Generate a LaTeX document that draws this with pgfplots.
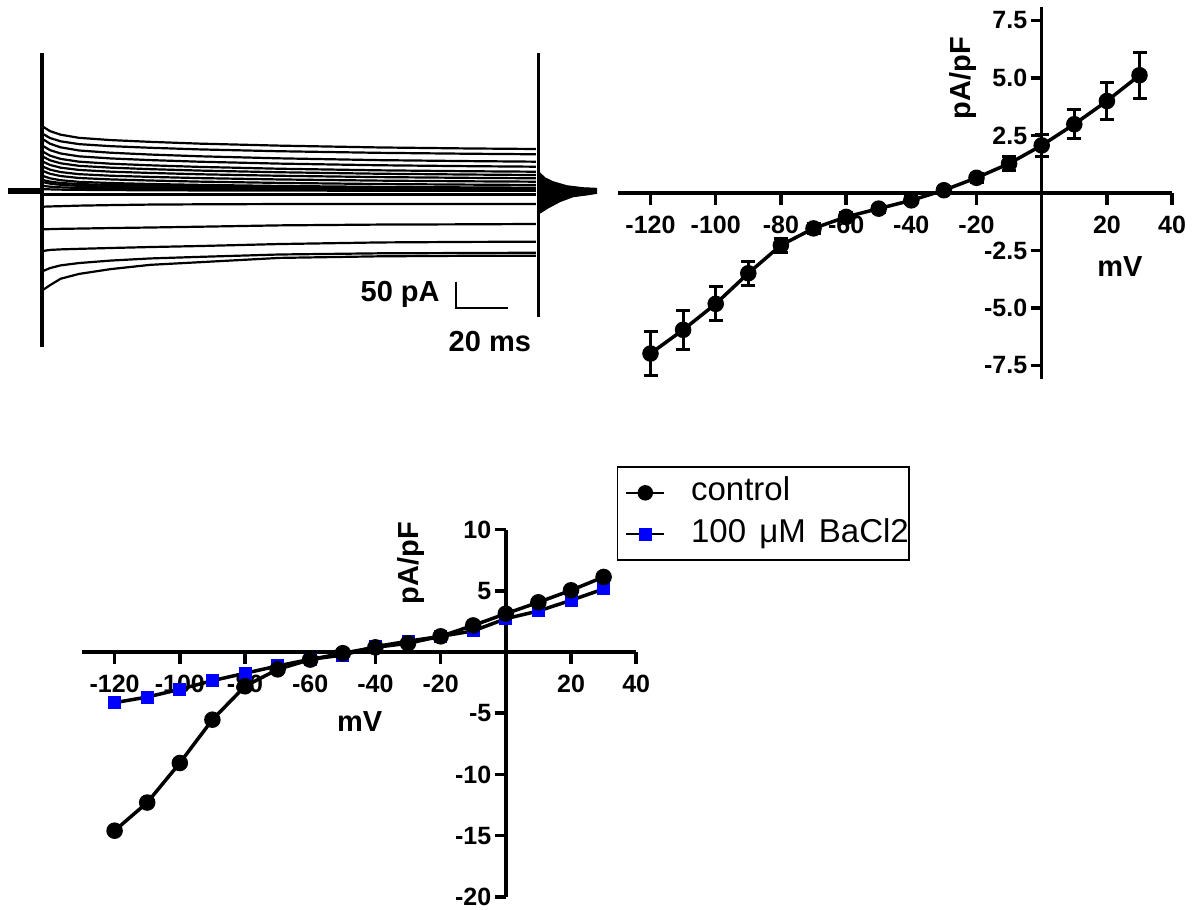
\documentclass[border=0pt]{standalone}
\usepackage{pgfplots}
\pgfplotsset{compat=1.18}
\usepackage{fontspec}
\setmainfont{Liberation Sans}
\newcommand{\tickfont}{\fontsize{25}{25}\selectfont\bfseries}
\newcommand{\labfont}{\fontsize{29}{29}\selectfont\bfseries}
\pgfplotsset{
  iv/.style={scale only axis, axis lines=middle,
    axis line style={line width=3.5pt,-}, tick style={line width=3.5pt, black},
    major tick length=11pt, tick align=outside,
    xtick={-120,-100,-80,-60,-40,-20,20,40},
    xticklabels={-120,-100,-80,-60,-40,-20,20,40},
    xtick style={draw=none},
    tick label style={font=\tickfont}, xticklabel style={yshift=-9pt},
    clip=false},
  tr/.style={black, line width=2.2pt, mark=none},
}
\newcommand{\xticksdown}{\pgfplotsinvokeforeach{-120,-100,-80,-60,-40,-20,20,40}{\draw[line width=3.5pt, black] (axis cs:##1,0) -- ++(0pt,-12pt);}}
\begin{document}
\begin{tikzpicture}[x=1pt,y=1pt]
\useasboundingbox (0,0) rectangle (1195,910);

% ---------------- current traces ----------------
\begin{axis}[at={(8pt,548.6pt)}, anchor=south west, scale only axis,
  width=589pt, height=314.7pt, xmin=0, xmax=223.7, ymin=-320, ymax=270,
  hide axis, clip=false]
\addplot[tr] coordinates {(13.3,120) (16,111.6) (20,105.0) (27,99.1) (39,94.9) (54,91.6) (73,88.2) (103,84.5) (141,81.1) (175,79.2) (200.5,78.2)};
\addplot[tr] coordinates {(13.3,106.3) (16,98.7) (20,92.6) (27,87.3) (39,83.5) (54,80.5) (73,77.4) (103,74.0) (141,71.0) (175,69.3) (200.5,68.3)};
\addplot[tr] coordinates {(13.3,96.4) (16,88.0) (20,81.3) (27,75.4) (39,71.2) (54,67.8) (73,64.5) (103,60.7) (141,57.3) (175,55.5) (200.5,54.4)};
\addplot[tr] coordinates {(13.3,83.8) (16,76.0) (20,69.8) (27,64.4) (39,60.5) (54,57.4) (73,54.3) (103,50.8) (141,47.7) (175,46.0) (200.5,45.0)};
\addplot[tr] coordinates {(13.3,73.1) (16,65.6) (20,59.6) (27,54.4) (39,50.6) (54,47.6) (73,44.6) (103,41.2) (141,38.2) (175,36.5) (200.5,35.6)};
\addplot[tr] coordinates {(13.3,63.8) (16,56.9) (20,51.4) (27,46.6) (39,43.2) (54,40.4) (73,37.7) (103,34.6) (141,31.8) (175,30.3) (200.5,29.4)};
\addplot[tr] coordinates {(13.3,54.4) (16,48.2) (20,43.2) (27,38.9) (39,35.7) (54,33.3) (73,30.8) (103,28.0) (141,25.5) (175,24.1) (200.5,23.3)};
\addplot[tr] coordinates {(13.3,45.0) (16,39.4) (20,34.9) (27,31.0) (39,28.1) (54,25.9) (73,23.6) (103,21.1) (141,18.9) (175,17.6) (200.5,16.9)};
\addplot[tr] coordinates {(13.3,36.9) (16,31.7) (20,27.5) (27,23.8) (39,21.2) (54,19.1) (73,17.0) (103,14.6) (141,12.5) (175,11.4) (200.5,10.7)};
\addplot[tr] coordinates {(13.3,27.6) (16,23.2) (20,19.7) (27,16.6) (39,14.4) (54,12.6) (73,10.9) (103,8.9) (141,7.1) (175,6.2) (200.5,5.6)};
\addplot[tr] coordinates {(13.3,20) (16,17) (20,14.5) (27,12.4) (39,10.8) (54,9.6) (73,8.5) (103,7.3) (141,6.0) (175,5.2) (200.5,4.6)};
\addplot[tr] coordinates {(13.3,16) (16,13.2) (20,11.0) (27,9.0) (39,7.6) (54,6.5) (73,5.4) (103,4.1) (141,3.0) (175,2.4) (200.5,2.0)};
\addplot[tr] coordinates {(13.3,9) (16,7.5) (20,6.3) (27,5.2) (39,4.4) (54,3.7) (73,3.0) (103,2.2) (141,1.5) (175,1.1) (200.5,0.8)};
\addplot[tr] coordinates {(13.3,3) (16,2.5) (20,2.0) (27,1.6) (39,1.2) (54,0.8) (73,0.5) (103,0.2) (141,0) (175,-0.2) (200.5,-0.3)};
\addplot[tr] coordinates {(13.3,-7) (200.5,-7)};
\addplot[tr] coordinates {(13.3,-30) (16,-29.5) (20,-29) (27,-28) (39,-27) (54,-26) (73,-25.5) (103,-25) (141,-25) (175,-25) (200.5,-25)};
\addplot[tr] coordinates {(13.3,-72.4) (16,-72) (20,-71.5) (27,-71) (39,-70) (54,-69) (73,-67.5) (103,-65) (141,-63.5) (175,-63) (200.5,-62.4)};
\addplot[tr] coordinates {(13.3,-113) (16,-111) (20,-110) (27,-109) (39,-107.4) (54,-105.6) (73,-103.7) (103,-100) (141,-97) (175,-96) (200.5,-95.6)};
\addplot[tr] coordinates {(13.3,-150.6) (16,-145) (20,-140) (27,-135.6) (39,-131) (54,-127) (73,-124) (103,-119.6) (141,-117.4) (175,-116.8) (200.5,-116.3)};
\addplot[tr] coordinates {(13.3,-186) (16,-177) (20,-165) (27,-156) (39,-147) (54,-139) (73,-134) (103,-126) (141,-123) (175,-122) (200.5,-122)};
% holding baseline and capacitive spikes
\addplot[black, line width=6pt, mark=none] coordinates {(0,0) (12.8,0)};
\addplot[black, line width=4pt, mark=none] coordinates {(12.8,258) (12.8,-293)};
\addplot[black, line width=3.5pt, mark=none] coordinates {(201.4,258) (201.4,-236)};
\addplot[black, fill=black, line width=1pt, mark=none] coordinates {(201.4,36) (204,24) (207,16.9) (212.2,9.4) (218.4,5.6) (223.6,4.5) (223.6,-5) (219.8,-8) (214.6,-11.3) (209.6,-20.6) (205.1,-32.4) (201.4,-44)} -- cycle;
% scale bar
\addplot[black, line width=2pt, mark=none] coordinates {(170,-170.6) (170,-220.5) (190,-220.5)};
\node[anchor=base east, font=\labfont, inner sep=0pt] at (axis cs:164,-208) {50 pA};
\node[anchor=base, font=\labfont, inner sep=0pt] at (axis cs:183,-302) {20 ms};
\end{axis}

% ---------------- top-right IV ----------------
\begin{axis}[iv, at={(1041.7pt,717pt)}, anchor=origin,
  width=554.2pt, height=372.6pt, xmin=-130, xmax=40, ymin=-8.1, ymax=8.1,
  ytick={-7.5,-5,-2.5,2.5,5,7.5}, yticklabels={-7.5,-5.0,-2.5,2.5,5.0,7.5}]
\xticksdown
\addplot[black, line width=3.5pt, mark=*, mark size=6.5pt,
  error bars/.cd, y dir=both, y explicit,
  error bar style={line width=3pt, black},
  error mark options={rotate=90, line width=3pt, mark size=7pt, black}]
  table[x=x, y=y, y error=e] {
x y e
-120 -6.98 0.95
-110 -5.95 0.84
-100 -4.82 0.74
-90 -3.49 0.53
-80 -2.27 0.30
-70 -1.54 0.20
-60 -1.04 0.20
-50 -0.68 0.15
-40 -0.32 0.15
-30 0.12 0.15
-20 0.66 0.20
-10 1.28 0.32
0 2.07 0.49
10 2.99 0.63
20 4.00 0.81
30 5.12 1.00
};
\node[rotate=90, font=\labfont] at (axis cs:-24,5.0) {pA/pF};
\node[font=\labfont] at (axis cs:24,-3.2) {mV};
\end{axis}

% ---------------- bottom IV ----------------
\begin{axis}[iv, at={(505.8pt,258pt)}, anchor=origin,
  width=554.2pt, height=367.2pt, xmin=-130, xmax=40, ymin=-20, ymax=10,
  ytick={-20,-15,-10,-5,5,10}, yticklabels={-20,-15,-10,-5,5,10},
  reverse legend,
  legend image code/.code={\path (-7pt,0pt) (63pt,0pt);
    \draw[mark repeat=2, mark phase=2, #1, line width=2.5pt]
      plot coordinates {(0pt,0pt) (19pt,0pt) (38pt,0pt)};},
  legend style={at={(0.965,1.172)}, anchor=north west, draw=black,
    line width=1.5pt, font=\fontsize{33}{38}\selectfont,
    inner xsep=0pt, inner ysep=5pt,
    nodes={text height=24pt, text depth=8pt, inner ysep=4.65pt, inner xsep=0pt},
    cells={anchor=west}}]
\xticksdown
\addplot[black, line width=3.5pt, mark=square*, mark size=6pt,
  mark options={fill=blue, draw=blue, line width=0pt}] table {
-120 -4.14
-110 -3.68
-100 -3.05
-90 -2.34
-80 -1.74
-70 -1.14
-60 -0.60
-50 -0.25
-40 0.44
-30 0.88
-20 1.28
-10 1.72
0 2.72
10 3.35
20 4.22
30 5.15
};
\addlegendentry{100\hspace{0.4em}μM\hspace{0.4em}BaCl2\hspace{24pt}}
\addplot[black, line width=3.5pt, mark=*, mark size=6.5pt] table {
-120 -14.6
-110 -12.3
-100 -9.07
-90 -5.53
-80 -2.80
-70 -1.42
-60 -0.62
-50 -0.10
-40 0.38
-30 0.71
-20 1.28
-10 2.17
0 3.13
10 4.06
20 5.04
30 6.13
};
\addlegendentry{control}
\node[rotate=90, font=\labfont] at (axis cs:-29,7.27) {pA/pF};
\node[font=\labfont] at (axis cs:-44.8,-5.7) {mV};
\end{axis}
\end{tikzpicture}
\end{document}
